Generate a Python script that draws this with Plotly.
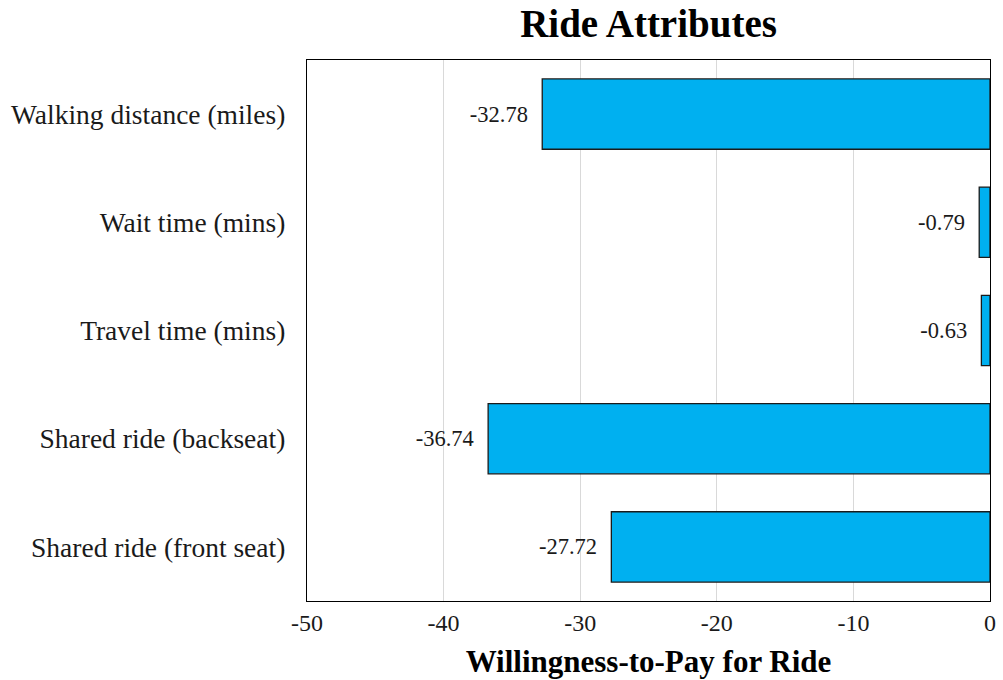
import plotly.graph_objects as go

categories = ["Walking distance (miles)", "Wait time (mins)", "Travel time (mins)",
              "Shared ride (backseat)", "Shared ride (front seat)"]
values = [-32.78, -0.79, -0.63, -36.74, -27.72]
labels = ["-32.78", "-0.79", "-0.63", "-36.74", "-27.72"]
tick_vals = [-50, -40, -30, -20, -10, 0]
tick_text = ["-50", "-40", "-30", "-20", "-10", "0"]

font = "Liberation Serif"
NBSP = "\u00a0"

fig = go.Figure(go.Bar(
    y=categories, x=values, orientation="h",
    text=[t + NBSP * 2 for t in labels], textposition="outside",
    textfont=dict(family=font, size=22.5, color="#1a1a1a"),
    marker=dict(color="#00B0F0", line=dict(color="#1a1a1a", width=1.3)),
    width=0.65, cliponaxis=False,
))

W, H = 1003, 680
L, R, T, B = 307, 13, 60, 79
fig.update_layout(
    width=W, height=H,
    margin=dict(l=L, r=R, t=T, b=B, autoexpand=False),
    paper_bgcolor="white", plot_bgcolor="white",
    showlegend=False,
    title=dict(text="<b>Ride Attributes</b>", x=(L + (W - R)) / 2 / W, xanchor="center",
               y=1 - 23 / H, yanchor="middle",
               font=dict(family=font, size=39, color="black")),
    font=dict(family=font, color="black"),
)
fig.update_xaxes(
    range=[-50, 0], tickvals=tick_vals, ticktext=tick_text,
    tickfont=dict(family=font, size=24, color="#1a1a1a"),
    showgrid=True, gridcolor="#d9d9d9", gridwidth=1,
    showline=True, linecolor="black", linewidth=1.3, mirror=True,
    zeroline=False, ticks="", automargin=False,
    title=dict(text="<b>Willingness-to-Pay for Ride</b>", font=dict(family=font, size=31, color="black"),
               standoff=15),
)
fig.update_yaxes(
    categoryorder="array", categoryarray=categories, autorange="reversed",
    tickfont=dict(family=font, size=27.5, color="#1a1a1a"),
    showline=True, linecolor="black", linewidth=1.3, mirror=True,
    showgrid=False, ticks="", ticklabelstandoff=15, automargin=False,
)

fig.write_html("out.html", config={"displayModeBar": False},
               post_script="document.body.style.margin='0';document.body.style.overflow='hidden';")
